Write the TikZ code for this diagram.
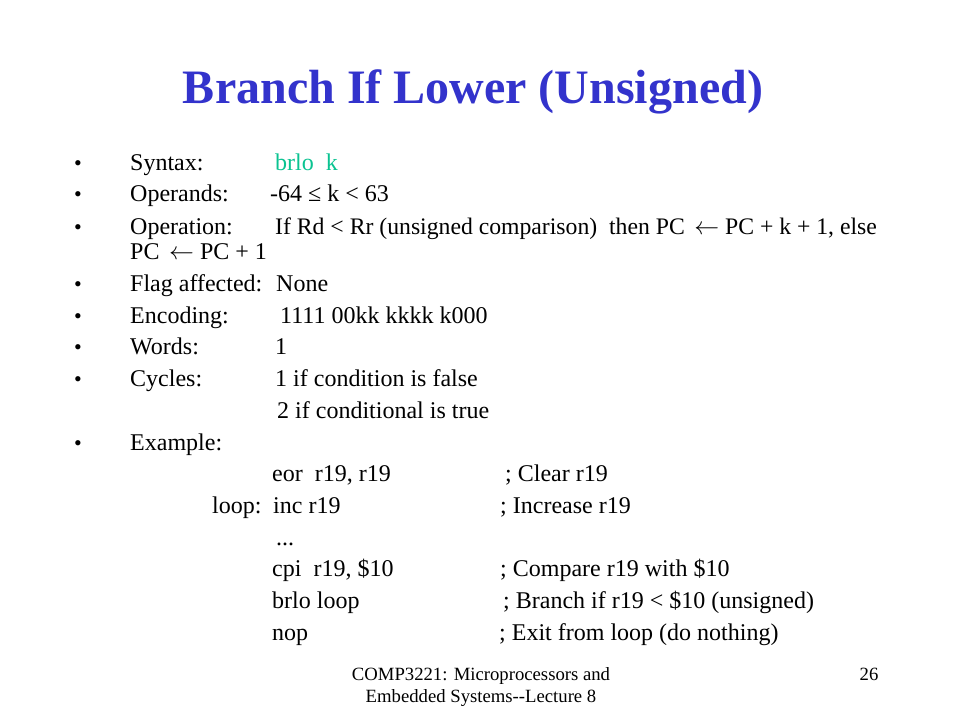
\documentclass[tikz,border=0pt]{standalone}
\usepackage{fontspec}
\setmainfont{Liberation Serif}
\definecolor{titleblue}{RGB}{51,51,204}
\definecolor{syngreen}{RGB}{10,195,145}
\tikzset{
  txt/.style={anchor=base west, inner sep=0pt, font=\fontsize{24}{28}\selectfont},
  bul/.style={anchor=base, inner sep=0pt, font=\fontsize{22}{26}\selectfont},
  foot/.style={anchor=base, inner sep=0pt, font=\fontsize{18.7}{22}\selectfont},
}
\newcommand{\myarr}{\hspace{0.4em}$\leftarrow$\hspace{0.25em}}
\begin{document}
\begin{tikzpicture}[x=1pt,y=-1pt]
\useasboundingbox[fill=white] (0,0) rectangle (960,720);
\node[anchor=base, inner sep=0pt, font=\fontsize{48}{52}\selectfont\bfseries, text=titleblue] (title) at (473,103) {Branch If Lower (Unsigned)};
% bullets
\foreach \y/\n in {170/b1,201/b2,234/b3,291/b4,323/b5,354/b6,386/b7,450/b8}{
  \node[bul] (\n) at (78,\y) {•};
}
\node[txt] (l1) at (130,170) {Syntax:};
\node[txt, text=syngreen] (v1) at (275,170) {brlo\ \ k};
\node[txt] (l2) at (130,201) {Operands:};
\node[txt] (v2) at (270,201) {-64 ≤ k < 63};
\node[txt] (l3) at (130,234) {Operation:};
\node[txt, font=\fontsize{23.7}{28}\selectfont] (v3) at (275,234) {If Rd < Rr (unsigned comparison)\ \ then PC\myarr PC + k + 1, else};
\node[txt] (v3b) at (130,259) {PC\myarr PC + 1};
\node[txt] (l4) at (130,291) {Flag affected:};
\node[txt] (v4) at (276,291) {None};
\node[txt] (l5) at (130,323) {Encoding:};
\node[txt] (v5) at (280,323) {1111 00kk kkkk k000};
\node[txt] (l6) at (130,354) {Words:};
\node[txt] (v6) at (275,354) {1};
\node[txt] (l7) at (130,386) {Cycles:};
\node[txt] (v7) at (275,386) {1 if condition is false};
\node[txt] (v7b) at (277,418) {2 if conditional is true};
\node[txt] (l8) at (130,450) {Example:};
% code
\node[txt] (c1) at (272,481) {eor\ \ r19, r19};
\node[txt] (k1) at (505,481) {; Clear r19};
\node[txt] (c2l) at (212,513) {loop:};
\node[txt] (c2) at (273,513) {inc r19};
\node[txt] (k2) at (500,513) {; Increase r19};
\node[txt] (c3) at (276,545) {...};
\node[txt] (c4) at (272,576) {cpi\ \ r19, \$10};
\node[txt] (k4) at (500,576) {; Compare r19 with \$10};
\node[txt] (c5) at (272,608) {brlo loop};
\node[txt] (k5) at (503,608) {; Branch if r19 < \$10 (unsigned)};
\node[txt] (c6) at (272,640) {nop};
\node[txt] (k6) at (499,640) {; Exit from loop (do nothing)};
% footer
\node[foot] (f1) at (481,680) {COMP3221: Microprocessors and};
\node[foot] (f2) at (481,702) {Embedded Systems-{}-Lecture 8};
\node[foot] (pg) at (869,680) {26};
\end{tikzpicture}
\end{document}
